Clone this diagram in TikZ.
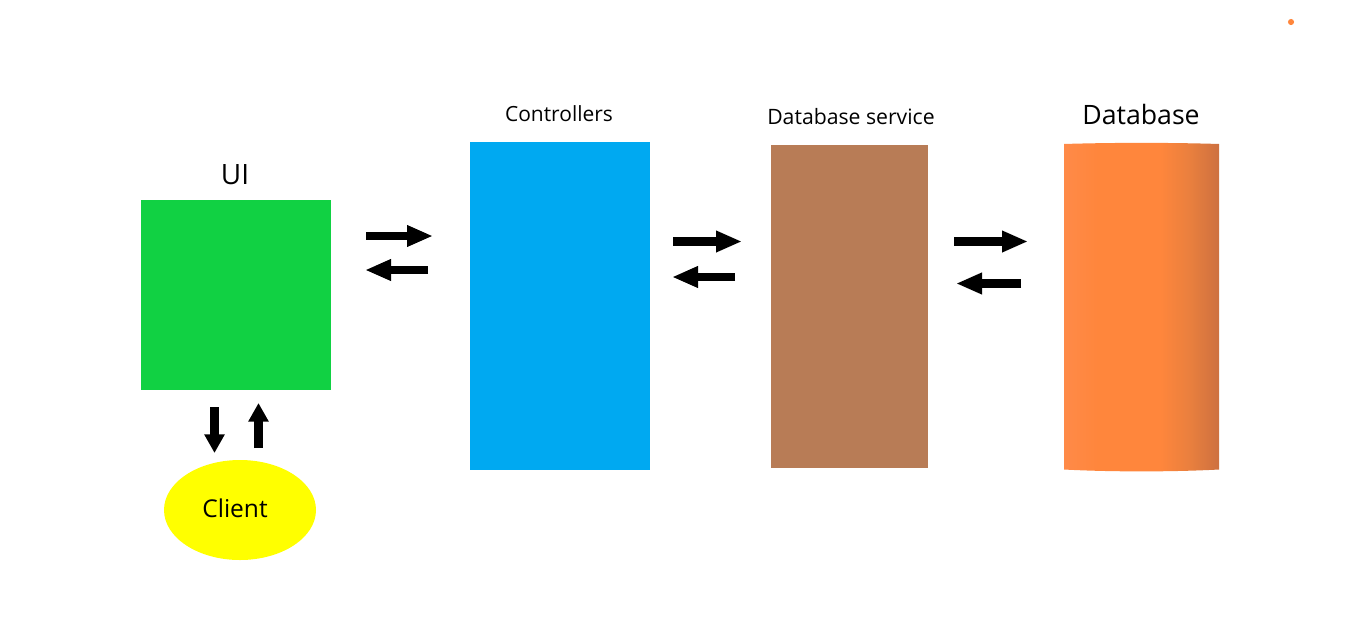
\documentclass[tikz,border=0pt]{standalone}
\usepackage{fontspec}
\setmainfont{Open Sans}
\usetikzlibrary{arrows.meta,shapes.geometric}
\definecolor{uigreen}{RGB}{17,209,67}
\definecolor{ctrlblue}{RGB}{0,169,241}
\definecolor{svcbrown}{RGB}{184,124,86}
\definecolor{dborange}{RGB}{255,134,60}
\definecolor{dbleft}{RGB}{255,138,72}
\definecolor{dbmid}{RGB}{232,127,62}
\definecolor{dbdark}{RGB}{205,112,64}
\definecolor{pureyellow}{RGB}{255,255,0}
\pgfdeclarehorizontalshading{dbshade}{100bp}{%
  color(0bp)=(dbleft); color(25bp)=(dbleft); color(36bp)=(dborange);
  color(56bp)=(dborange); color(66bp)=(dbmid); color(75bp)=(dbdark); color(100bp)=(dbdark)}
\begin{document}
\begin{tikzpicture}[x=0.75pt,y=-0.75pt,
  lbl/.style={inner sep=0pt,anchor=base,text=black},
  harrow/.style={line width=6.4pt,-{Triangle[length=19.5pt,width=15pt]}},
  varrow/.style={line width=6.6pt,-{Triangle[length=14pt,width=14.5pt]}}]
\useasboundingbox (0,0) rectangle (1350,629);
\fill[white] (0,0) rectangle (1350,629);
% nodes
\node[fill=uigreen,minimum width=142.5pt,minimum height=142.5pt,inner sep=0pt] (ui) at (236,295) {};
\node[lbl,font=\fontsize{21}{24}\selectfont] (uil) at (235,184) {UI};
\node[ellipse,fill=pureyellow,minimum width=114pt,minimum height=75pt,inner sep=0pt] (client) at (240,510) {};
\node[lbl,font=\fontsize{18.4}{22}\selectfont] (clientl) at (235,517) {Client};
\node[fill=ctrlblue,minimum width=135pt,minimum height=246pt,inner sep=0pt] (ctrl) at (560,306) {};
\node[lbl,font=\fontsize{15.7}{19}\selectfont] (ctrll) at (559,121) {Controllers};
\node[fill=svcbrown,minimum width=117.75pt,minimum height=242.25pt,inner sep=0pt] (svc) at (849.5,306.5) {};
\node[lbl,font=\fontsize{15.9}{19}\selectfont] (svcl) at (851,124) {Database service};
\shade[shading=dbshade] (1064,144) .. controls (1110,142.5) and (1173,142.5) .. (1219,144)
  -- (1219,469.5) .. controls (1173,472) and (1110,472) .. (1064,469.5) -- cycle;
\coordinate (db) at (1141,307);
\node[lbl,font=\fontsize{20}{24}\selectfont] (dbl) at (1141,124) {Database};
\fill[dborange] (1291,22) circle (2.3pt);
% arrow end points
\coordinate (a1s) at (366,236);  \coordinate (a1e) at (433,236);
\coordinate (b1s) at (428,270);  \coordinate (b1e) at (365,270);
\coordinate (a2s) at (673,241.5);\coordinate (a2e) at (742,241.5);
\coordinate (b2s) at (735,277);  \coordinate (b2e) at (672,277);
\coordinate (a3s) at (954,241.5);\coordinate (a3e) at (1028,241.5);
\coordinate (b3s) at (1021,283.5);\coordinate (b3e) at (956,283.5);
\coordinate (d1s) at (214.5,407);\coordinate (d1e) at (214.5,453);
\coordinate (u1s) at (258.5,448);\coordinate (u1e) at (258.5,403);
\draw[harrow] (a1s) -- (a1e);
\draw[harrow] (b1s) -- (b1e);
\draw[harrow] (a2s) -- (a2e);
\draw[harrow] (b2s) -- (b2e);
\draw[harrow] (a3s) -- (a3e);
\draw[harrow] (b3s) -- (b3e);
\draw[varrow] (d1s) -- (d1e);
\draw[varrow] (u1s) -- (u1e);
\end{tikzpicture}
\end{document}
